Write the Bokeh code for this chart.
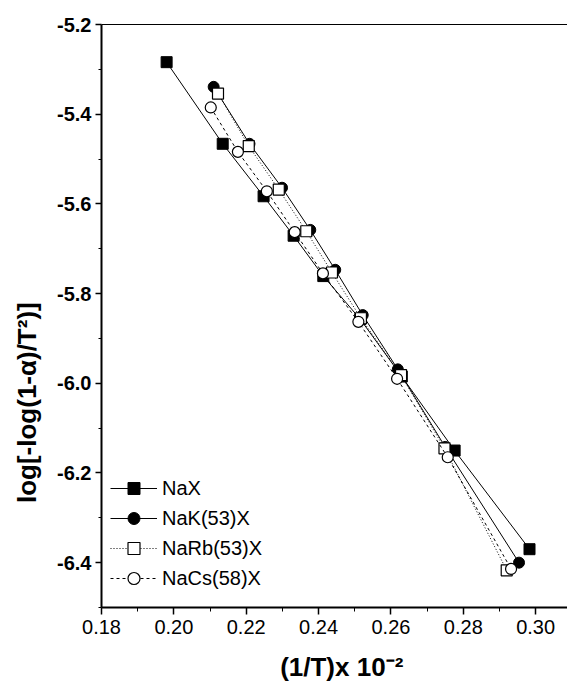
import math
from bokeh.plotting import figure
from bokeh.models import (Range1d, FixedTicker, PrintfTickFormatter, Legend, LegendItem,
                          LinearAxis)
from bokeh.embed import file_html
from bokeh.resources import INLINE

# ---- data ----
nax_x = [0.1980, 0.2135, 0.2248, 0.2331, 0.2413, 0.2515, 0.2630, 0.2776, 0.2983]
nax_y = [-5.284, -5.466, -5.583, -5.671, -5.761, -5.857, -5.985, -6.150, -6.370]
nak_x = [0.2110, 0.2209, 0.2299, 0.2377, 0.2446, 0.2522, 0.2619, 0.2750, 0.2954]
nak_y = [-5.339, -5.466, -5.564, -5.658, -5.747, -5.848, -5.969, -6.142, -6.400]
narb_x = [0.2122, 0.2207, 0.2290, 0.2366, 0.2437, 0.2517, 0.2628, 0.2748, 0.2920]
narb_y = [-5.354, -5.471, -5.568, -5.661, -5.753, -5.855, -5.982, -6.145, -6.417]
nacs_x = [0.2102, 0.2177, 0.2257, 0.2334, 0.2412, 0.2510, 0.2617, 0.2757, 0.2932]
nacs_y = [-5.385, -5.484, -5.572, -5.663, -5.755, -5.863, -5.990, -6.165, -6.414]

series_names = ["NaX", "NaK(53)X", "NaRb(53)X", "NaCs(58)X"]
x_ticks = [0.18, 0.20, 0.22, 0.24, 0.26, 0.28, 0.30]
x_minor = [0.19, 0.21, 0.23, 0.25, 0.27, 0.29, 0.31]
y_ticks = [-5.2, -5.4, -5.6, -5.8, -6.0, -6.2, -6.4]
y_minor = [-5.3, -5.5, -5.7, -5.9, -6.1, -6.3, -6.5]
x_title = "(1/T)x 10\u207b\u00b2"
y_title = "log[-log(1-\u03b1)/T\u00b2)]"

FONT = "Liberation Sans"

p = figure(width=567, height=687, output_backend="svg", toolbar_location=None,
           x_range=Range1d(0.18, 0.3088), y_range=Range1d(-6.5, -5.2),
           min_border_left=101, min_border_right=0, min_border_top=24,
           min_border_bottom=80)
p.outline_line_color = None
p.grid.visible = False
p.background_fill_color = "white"
p.border_fill_color = "white"

# axes
xa = p.xaxis[0]
xa.ticker = FixedTicker(ticks=x_ticks, minor_ticks=x_minor)
xa.formatter = PrintfTickFormatter(format="%.2f")
xa.major_label_text_font = FONT
xa.major_label_text_font_size = "20px"
xa.major_label_text_color = "black"
xa.axis_line_width = 2
xa.major_tick_line_width = 1.5
xa.major_tick_out = 7
xa.major_tick_in = 0
xa.minor_tick_out = 4
xa.minor_tick_in = 0
xa.major_label_standoff = 5
xa.axis_label = "\u00a0\u00a0" + x_title
xa.axis_label_text_font = FONT
xa.axis_label_text_font_size = "26px"
xa.axis_label_text_font_style = "bold"
xa.axis_label_text_color = "black"
xa.axis_label_standoff = 15

ya = p.yaxis[0]
ya.ticker = FixedTicker(ticks=y_ticks, minor_ticks=y_minor)
ya.formatter = PrintfTickFormatter(format="%.1f")
ya.major_label_text_font = FONT
ya.major_label_text_font_size = "20px"
ya.major_label_text_font_style = "bold"
ya.major_label_text_color = "black"
ya.axis_line_width = 2
ya.major_tick_line_width = 1.5
ya.major_tick_out = 6
ya.major_tick_in = 0
ya.minor_tick_out = 3
ya.minor_tick_in = 0
ya.major_label_standoff = 4
ya.axis_label = y_title + "\u00a0" * 24
ya.axis_label_text_font = FONT
ya.axis_label_text_font_size = "26px"
ya.axis_label_text_font_style = "bold"
ya.axis_label_text_color = "black"
ya.axis_label_standoff = 12

top = LinearAxis(ticker=FixedTicker(ticks=[]), major_tick_line_color=None,
                 minor_tick_line_color=None, major_label_text_font_size="0px",
                 axis_line_width=1)
p.add_layout(top, "above")

# series
r1l = p.line(nax_x, nax_y, line_color="black", line_width=1)
r1m = p.scatter(nax_x, nax_y, marker="square", size=11, fill_color="black", line_color="black")
r2l = p.line(nak_x, nak_y, line_color="black", line_width=1)
r2m = p.scatter(nak_x, nak_y, marker="circle", size=11, fill_color="black", line_color="black")
r3l = p.line(narb_x, narb_y, line_color="black", line_width=1, line_dash="1 2")
r3m = p.scatter(narb_x, narb_y, marker="square", size=11, fill_color="white", line_color="black", line_width=1.2)
r4l = p.line(nacs_x, nacs_y, line_color="black", line_width=1, line_dash="3 3")
r4m = p.scatter(nacs_x, nacs_y, marker="circle", size=11, fill_color="white", line_color="black", line_width=1.2)

legend = Legend(items=[
    LegendItem(label=series_names[0], renderers=[r1l, r1m]),
    LegendItem(label=series_names[1], renderers=[r2l, r2m]),
    LegendItem(label=series_names[2], renderers=[r3l, r3m]),
    LegendItem(label=series_names[3], renderers=[r4l, r4m]),
], location=(9, 14))
legend.background_fill_alpha = 0
legend.border_line_color = None
legend.label_text_font = FONT
legend.label_text_font_size = "20px"
legend.label_text_color = "black"
legend.glyph_width = 47
legend.glyph_height = 30
legend.label_height = 30
legend.spacing = 0
legend.padding = 0
legend.margin = 0
legend.label_standoff = 5
p.add_layout(legend, "center")

open("out.html", "w").write(file_html(p, INLINE))
